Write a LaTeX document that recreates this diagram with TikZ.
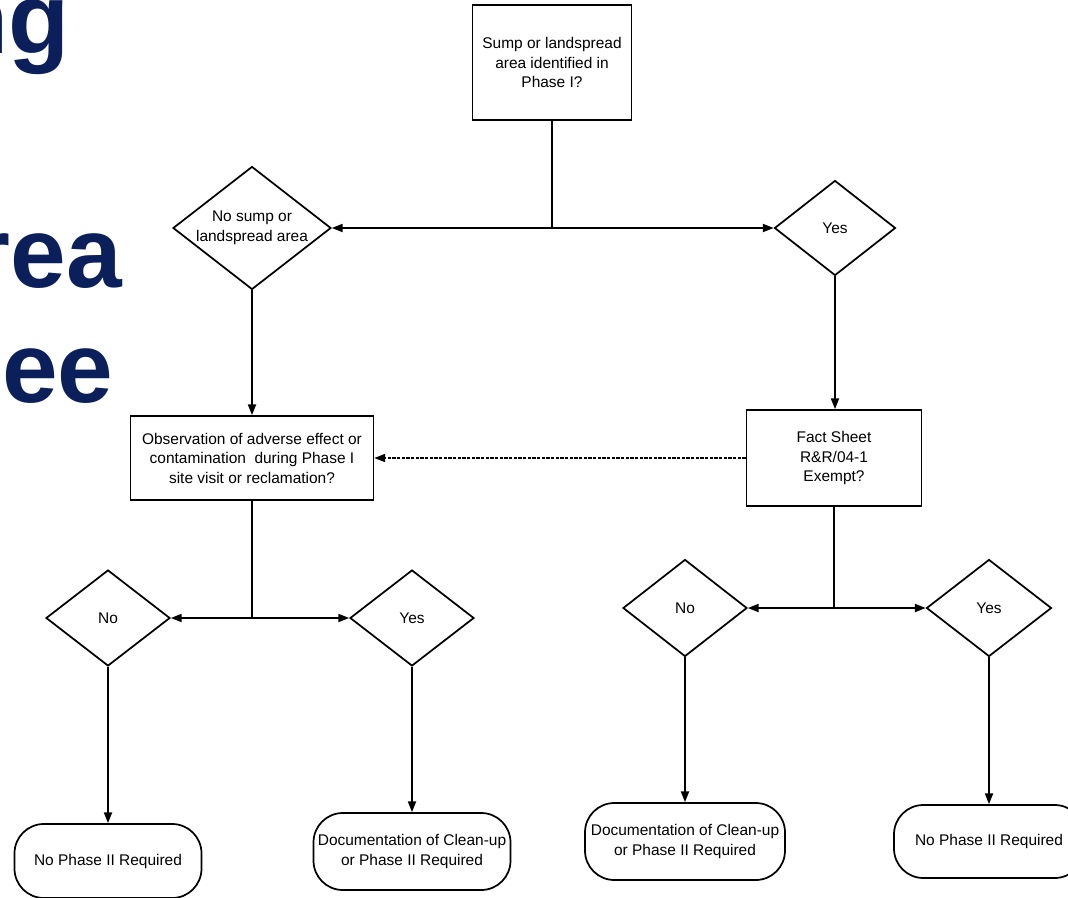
\documentclass[tikz,border=0pt]{standalone}
\usepackage{fontspec}
\setmainfont{Liberation Sans}
\usetikzlibrary{shapes.geometric,arrows.meta}
\definecolor{titleblue}{RGB}{11,31,90}
\begin{document}
\begin{tikzpicture}[x=0.75pt,y=-0.75pt,
  every node/.style={font=\fontsize{11.6}{14.6}\selectfont, align=center},
  box/.style={draw, rectangle, line width=1.3pt, inner sep=0pt},
  choice/.style={draw, diamond, line width=1.3pt, inner sep=0pt},
  term/.style={draw, rectangle, rounded corners=22pt, line width=1.3pt, inner sep=0pt},
  conn/.style={line width=1.3pt},
  arr/.style={conn, -{Triangle[length=8pt,width=6pt]}},
  titletext/.style={font=\fontsize{75}{90}\selectfont\bfseries, text=titleblue, anchor=base east, inner sep=0pt}]
\useasboundingbox[fill=white] (0,0) rectangle (1068,897);

% partial slide title
\node[titletext] (tl1) at (70,53) {ng};
\node[titletext] (tl2) at (122,287) {rea};
\node[titletext] (tl3) at (113.5,402) {ee};

% nodes
\node[box, minimum width=159*0.75pt, minimum height=115*0.75pt] (top) at (552,62.5) {Sump or landspread\\area identified in\\Phase I?};
\node[choice, minimum width=158*0.75pt, minimum height=123*0.75pt,
      label={[align=center]center:{No sump or\\landspread area}}] (d1) at (252,228) {};
\node[choice, minimum width=121*0.75pt, minimum height=95*0.75pt] (d2) at (835,228) {Yes};
\node[box, minimum width=243*0.75pt, minimum height=84*0.75pt] (obs) at (252,458) {Observation of adverse effect or\\contamination\ \ during Phase I\\site visit or reclamation?};
\node[box, minimum width=175*0.75pt, minimum height=96*0.75pt] (fact) at (834,458) {Fact Sheet\\R\&R/04-1\\Exempt?};
\node[choice, minimum width=124*0.75pt, minimum height=96*0.75pt] (no1) at (108,618) {No};
\node[choice, minimum width=124*0.75pt, minimum height=96*0.75pt] (yes1) at (412,618) {Yes};
\node[choice, minimum width=124*0.75pt, minimum height=97*0.75pt] (no2) at (685,608) {No};
\node[choice, minimum width=125*0.75pt, minimum height=97*0.75pt] (yes2) at (989,608) {Yes};
\node[term, minimum width=187*0.75pt, minimum height=74*0.75pt] (t1) at (108,861) {No Phase II Required};
\node[term, minimum width=197*0.75pt, minimum height=77*0.75pt] (t2) at (412,851.5) {Documentation of Clean-up\\or Phase II Required};
\node[term, minimum width=200*0.75pt, minimum height=77*0.75pt] (t3) at (685,841.5) {Documentation of Clean-up\\or Phase II Required};
\node[term, minimum width=190*0.75pt, minimum height=73*0.75pt] (t4) at (989,841.5) {No Phase II Required};

% connectors
\coordinate (j1) at (top.south |- d1.east);
\draw[conn] (top.south) -- (j1);
\draw[arr] (j1) -- (d1.east);
\draw[arr] (j1) -- (d2.west);
\draw[arr] (d1.south) -- (d1.south |- obs.north);
\draw[arr] (d2.south) -- (d2.south |- fact.north);
\draw[arr, line width=1pt, dash pattern=on 2.5pt off 1pt] (fact.west) -- (obs.east);

\coordinate (j2) at (obs.south |- no1.east);
\draw[conn] (obs.south) -- (j2);
\draw[arr] (j2) -- (no1.east);
\draw[arr] (j2) -- (yes1.west);

\coordinate (j3) at (fact.south |- no2.east);
\draw[conn] (fact.south) -- (j3);
\draw[arr] (j3) -- (no2.east);
\draw[arr] (j3) -- (yes2.west);

\draw[arr] (no1.south) -- (no1.south |- t1.north);
\draw[arr] (yes1.south) -- (yes1.south |- t2.north);
\draw[arr] (no2.south) -- (no2.south |- t3.north);
\draw[arr] (yes2.south) -- (yes2.south |- t4.north);
\end{tikzpicture}
\end{document}
